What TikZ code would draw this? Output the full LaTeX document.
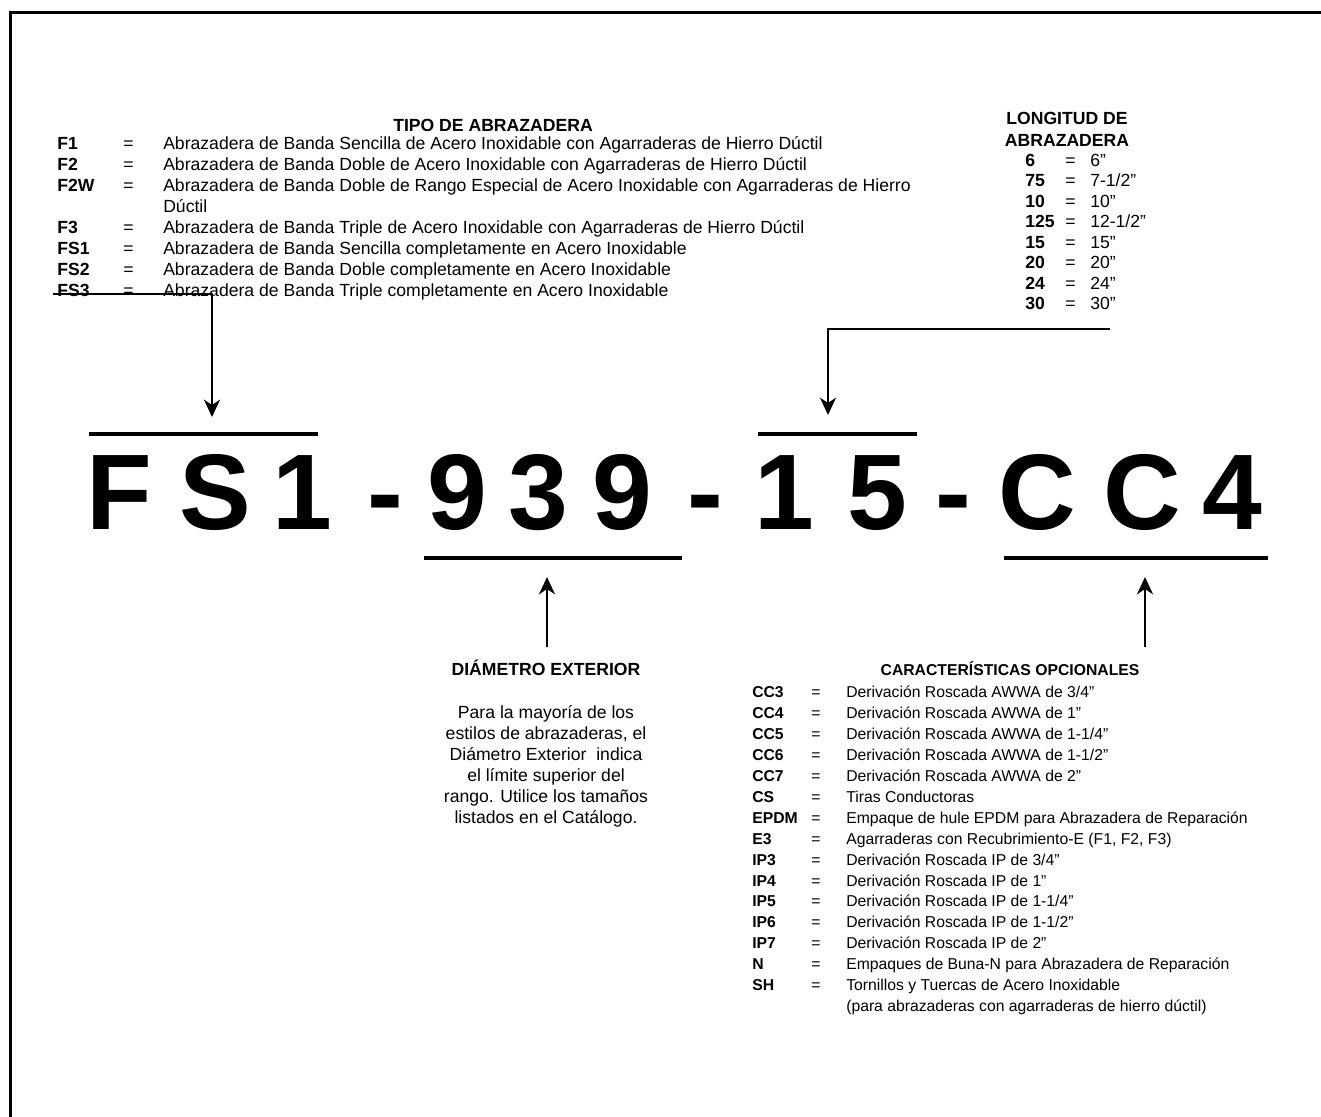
\documentclass[tikz,border=0pt]{standalone}
\usepackage{fontspec}
\setmainfont{Liberation Sans}
\usetikzlibrary{arrows.meta}
\newcommand{\grande}{\fontsize{13.2pt}{15.75pt}\selectfont}
\newcommand{\chica}{\fontsize{11.8pt}{15.7pt}\selectfont}
\newcommand{\codigo}{\fontsize{80.6pt}{80pt}\selectfont\bfseries}
\begin{document}
\begin{tikzpicture}[x=0.75pt,y=-0.75pt,>={Stealth[length=13pt,width=12pt,inset=4pt]},
  flecha/.style={->,line width=1.8pt},
  barra/.style={line width=2.5pt},
  lista/.style={anchor=base west,inner sep=0pt},
  titulo/.style={anchor=base,inner sep=0pt,font=\grande\bfseries},
  letra/.style={anchor=base,inner sep=0pt,font=\codigo}]
\useasboundingbox (0,0) rectangle (1321,1117);
% marco
\draw[line width=2.25pt] (10,1117) -- (10,12) -- (1321,12);
% tipo de abrazadera
\node[titulo] (tipoT) at (493,131) {TIPO DE ABRAZADERA};
\node[lista,font=\grande] (tipo) at (57,149.5) {\begin{tabular}[t]{@{}p{49.5pt}@{}p{30pt}@{}l@{}}
\textbf{F1} & = & Abrazadera de Banda Sencilla de Acero Inoxidable con Agarraderas de Hierro Dúctil\\
\textbf{F2} & = & Abrazadera de Banda Doble de Acero Inoxidable con Agarraderas de Hierro Dúctil\\
\textbf{F2W} & = & Abrazadera de Banda Doble de Rango Especial de Acero Inoxidable con Agarraderas de Hierro\\
 & & Dúctil\\
\textbf{F3} & = & Abrazadera de Banda Triple de Acero Inoxidable con Agarraderas de Hierro Dúctil\\
\textbf{FS1} & = & Abrazadera de Banda Sencilla completamente en Acero Inoxidable\\
\textbf{FS2} & = & Abrazadera de Banda Doble completamente en Acero Inoxidable\\
\textbf{FS3} & = & Abrazadera de Banda Triple completamente en Acero Inoxidable
\end{tabular}};
% longitud
\node[titulo] (longT) at (1067,124) {LONGITUD DE};
\node[titulo] (longT2) at (1067,146) {ABRAZADERA};
\node[lista,font=\fontsize{13.2pt}{15.4pt}\selectfont] (longitud) at (1025,166) {\begin{tabular}[t]{@{}p{30pt}@{}p{18.75pt}@{}l@{}}
\textbf{6} & = & 6”\\
\textbf{75} & = & 7-1/2”\\
\textbf{10} & = & 10”\\
\textbf{125} & = & 12-1/2”\\
\textbf{15} & = & 15”\\
\textbf{20} & = & 20”\\
\textbf{24} & = & 24”\\
\textbf{30} & = & 30”
\end{tabular}};
% codigo
\foreach \c/\x [count=\i] in {F/119,S/215,1/302,-/385,9/457,3/538,9/622,-/705,1/784,5/877,-/953,C/1037,C/1142,4/1232}
  \node[letra] (c\i) at (\x,529) {\c};
\draw[barra] (89,434) -- (318,434);
\draw[barra] (758,434) -- (917,434);
\draw[barra] (424,558) -- (682,558);
\draw[barra] (1004,558) -- (1268,558);
% diametro
\node[titulo] (diamT) at (546,675) {DIÁMETRO EXTERIOR};
\node[anchor=base,inner sep=0pt,font=\grande] (diam) at (546,718) {\begin{tabular}[t]{@{}c@{}}
Para la mayoría de los\\
estilos de abrazaderas, el\\
Diámetro Exterior\ \ indica\\
el límite superior del\\
rango. Utilice los tamaños\\
listados en el Catálogo.
\end{tabular}};
% caracteristicas opcionales
\node[titulo,font=\chica\bfseries] (opcT) at (1010,675.6) {CARACTERÍSTICAS OPCIONALES};
\node[lista,font=\chica] (opc) at (752,697.6) {\begin{tabular}[t]{@{}p{44.25pt}@{}p{26.25pt}@{}l@{}}
\textbf{CC3} & = & Derivación Roscada AWWA de 3/4”\\
\textbf{CC4} & = & Derivación Roscada AWWA de 1”\\
\textbf{CC5} & = & Derivación Roscada AWWA de 1-1/4”\\
\textbf{CC6} & = & Derivación Roscada AWWA de 1-1/2”\\
\textbf{CC7} & = & Derivación Roscada AWWA de 2”\\
\textbf{CS} & = & Tiras Conductoras\\
\textbf{EPDM} & = & Empaque de hule EPDM para Abrazadera de Reparación\\
\textbf{E3} & = & Agarraderas con Recubrimiento-E (F1, F2, F3)\\
\textbf{IP3} & = & Derivación Roscada IP de 3/4”\\
\textbf{IP4} & = & Derivación Roscada IP de 1”\\
\textbf{IP5} & = & Derivación Roscada IP de 1-1/4”\\
\textbf{IP6} & = & Derivación Roscada IP de 1-1/2”\\
\textbf{IP7} & = & Derivación Roscada IP de 2”\\
\textbf{N} & = & Empaques de Buna-N para Abrazadera de Reparación\\
\textbf{SH} & = & Tornillos y Tuercas de Acero Inoxidable\\
 & & (para abrazaderas con agarraderas de hierro dúctil)
\end{tabular}};
% flechas
\coordinate (finTipo) at (53,294);
\coordinate (aFS) at (212,417);
\coordinate (finLong) at (1110,329);
\coordinate (a15) at (828,415);
\coordinate (baseDiam) at (547,647);
\coordinate (a939) at (547,577);
\coordinate (baseOpc) at (1145,647);
\coordinate (aCC4) at (1145,577);
\draw[flecha] (finTipo) -| (aFS);
\draw[flecha] (finLong) -| (a15);
\draw[flecha] (baseDiam) -- (a939);
\draw[flecha] (baseOpc) -- (aCC4);
\end{tikzpicture}
\end{document}
